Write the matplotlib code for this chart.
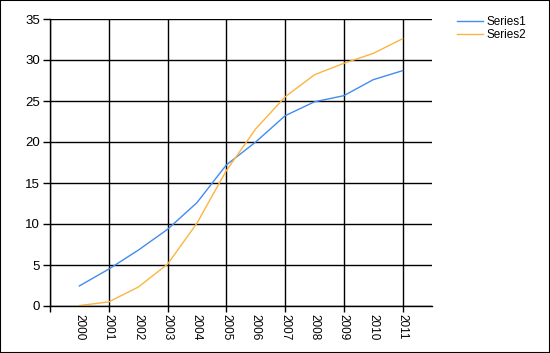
import numpy as np
import matplotlib.pyplot as plt
from matplotlib.patches import Rectangle

# Data
years = ['2000', '2001', '2002', '2003', '2004', '2005',
         '2006', '2007', '2008', '2009', '2010', '2011']
series1 = [2.45, 4.5, 6.8, 9.35, 12.6, 17.2, 20.0, 23.2, 24.9, 25.65, 27.6, 28.7]
series2 = [0.05, 0.5, 2.3, 5.1, 10.1, 16.5, 21.6, 25.5, 28.2, 29.6, 30.8, 32.6]

plt.rcParams['font.family'] = ['Liberation Sans', 'DejaVu Sans']

fig = plt.figure(figsize=(5.5, 3.53), dpi=100)
ax = fig.add_axes([50 / 550, 47 / 353, 382 / 550, 287 / 353])

x = np.arange(1, len(years) + 1)
ax.plot(x, series1, color='#418CF0', lw=1.0, label='Series1')
ax.plot(x, series2, color='#FCB441', lw=1.0, label='Series2')

ax.set_xlim(0, len(years) + 1)
ax.set_ylim(0, 35)
ax.set_yticks(np.arange(0, 36, 5))

# major ticks/grid every other category, labels on every category
ax.xaxis.remove_overlapping_locs = False
ax.set_xticks(np.arange(0, len(years) + 1, 2))
ax.set_xticklabels([])
ax.set_xticks(x, minor=True)
ax.set_xticklabels(years, minor=True, rotation=-90, fontsize=8.5)
ax.tick_params(axis='x', which='minor', length=0, pad=6)
ax.tick_params(axis='x', which='major', length=4, width=1, direction='out')
ax.tick_params(axis='y', length=5, width=1, labelsize=9.5, pad=2)

ax.grid(True, which='major', color='black', lw=1)
ax.set_axisbelow(True)
for s in ['top', 'right']:
    ax.spines[s].set_visible(False)
for s in ['left', 'bottom']:
    ax.spines[s].set_linewidth(1)

fig.legend(loc='upper left', bbox_to_anchor=(452 / 550, 1 - 11 / 353),
           frameon=False, fontsize=8.5, handlelength=2.2,
           handletextpad=0.3, labelspacing=0.15, borderaxespad=0)

fig.patches.append(Rectangle((0, 0), 1, 1, transform=fig.transFigure,
                             fill=False, edgecolor='black', lw=1.5))

fig.savefig('out.png', dpi=100)
